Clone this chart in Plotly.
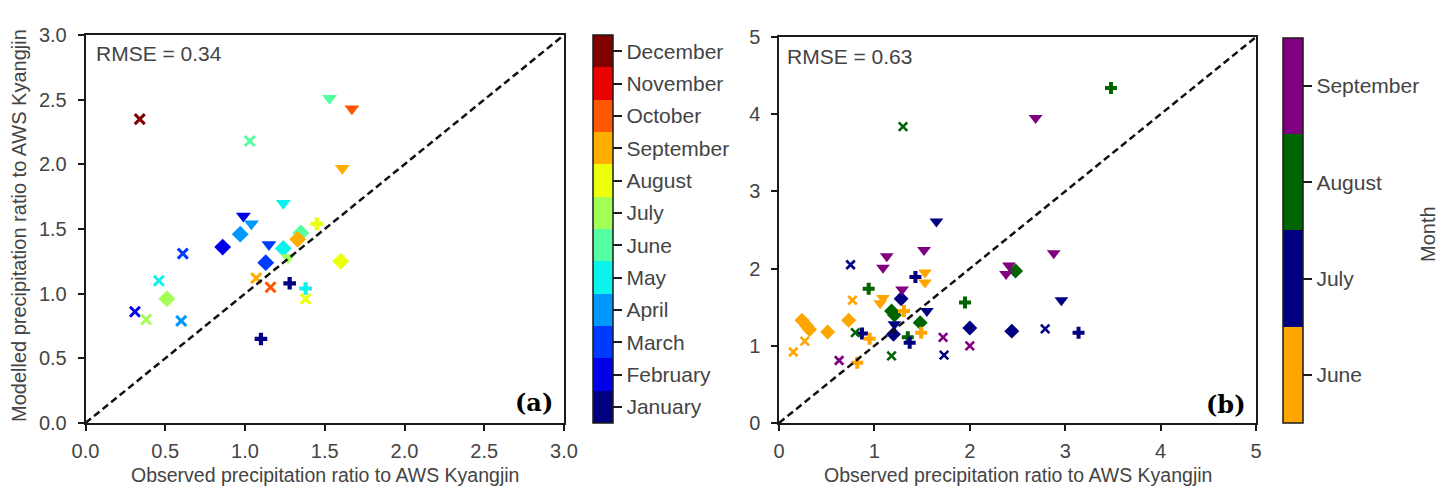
import plotly.graph_objects as go

W, H = 1451, 488

# ---------------- data: panel (a) ----------------
months_a = ["January", "February", "March", "April", "May", "June", "July",
            "August", "September", "October", "November", "December"]
obs_a = [0.34, 1.03, 1.53, 1.67, 1.61, 1.24, 1.45, 0.99, 1.04, 1.15,
         0.97, 0.86, 1.13, 1.24, 1.35, 1.33, 1.27, 1.60, 0.61, 0.46,
         0.51, 0.31, 0.38, 0.60, 1.07, 1.16, 1.28, 1.38, 1.38, 1.10]
mod_a = [2.35, 2.18, 2.51, 2.43, 1.97, 1.70, 1.54, 1.60, 1.54, 1.38,
         1.46, 1.36, 1.24, 1.35, 1.47, 1.42, 1.28, 1.25, 1.31, 1.10,
         0.96, 0.86, 0.80, 0.79, 1.12, 1.05, 1.08, 1.04, 0.96, 0.65]
month_a = [12, 6, 6, 10, 9, 5, 8, 2, 4, 3,
           4, 2, 3, 5, 6, 9, 7, 8, 3, 5,
           7, 2, 7, 4, 9, 10, 1, 5, 8, 1]
kind_a = ["x", "x", "v", "v", "v", "v", "P", "v", "v", "v",
          "D", "D", "D", "D", "D", "D", "v", "D", "x", "x",
          "D", "x", "x", "x", "x", "x", "P", "P", "x", "P"]
jet12 = ["#000080", "#0000e9", "#003aff", "#0097ff", "#0bf3ec", "#56ffa1",
         "#a1ff56", "#ecff0b", "#ffad00", "#ff5700", "#e90200", "#800000"]
ticks_a = [0.0, 0.5, 1.0, 1.5, 2.0, 2.5, 3.0]
lim_a = [0.0, 3.0]

# ---------------- data: panel (b) ----------------
months_b = ["June", "July", "August", "September"]
obs_b = [1.30, 1.65, 3.48, 2.69, 0.75, 1.13, 1.09, 1.52, 1.53, 1.53,
         1.43, 0.94, 0.77, 1.09, 1.06, 1.29, 1.28, 1.18, 1.21, 1.31,
         1.55, 1.20, 1.21, 1.48, 1.49, 1.35, 1.37, 0.87, 0.95, 0.80,
         0.24, 0.29, 0.32, 0.51, 0.73, 0.27, 0.15, 0.63, 0.82, 1.18,
         1.72, 1.73, 2.00, 2.00, 2.44, 1.95, 2.41, 2.38, 2.48, 2.88,
         2.96, 2.79, 3.14]
mod_b = [3.84, 2.61, 4.34, 3.95, 2.05, 2.16, 2.01, 2.24, 1.95, 1.82,
         1.89, 1.74, 1.59, 1.62, 1.55, 1.73, 1.61, 1.45, 1.40, 1.45,
         1.45, 1.15, 1.28, 1.30, 1.17, 1.11, 1.04, 1.16, 1.09, 1.17,
         1.33, 1.26, 1.21, 1.18, 1.33, 1.06, 0.92, 0.81, 0.78, 0.87,
         1.11, 0.88, 1.00, 1.23, 1.19, 1.56, 2.04, 1.93, 1.97, 2.20,
         1.59, 1.22, 1.17]
month_b = [8, 7, 8, 9, 7, 9, 9, 9, 6, 6,
           7, 8, 6, 6, 6, 9, 7, 8, 8, 6,
           7, 7, 7, 8, 6, 8, 7, 7, 6, 8,
           6, 6, 6, 6, 6, 6, 6, 9, 6, 8,
           9, 7, 9, 7, 7, 8, 9, 9, 8, 9,
           7, 7, 7]
kind_b = ["x", "v", "P", "v", "x", "v", "v", "v", "v", "v",
          "P", "P", "x", "v", "v", "v", "D", "D", "D", "P",
          "v", "D", "v", "D", "P", "P", "P", "P", "P", "x",
          "D", "D", "D", "D", "D", "x", "x", "x", "P", "x",
          "x", "x", "x", "D", "D", "P", "v", "v", "D", "v",
          "v", "x", "P"]
cols_b = ["#ffa500", "#000080", "#006400", "#800080"]
ticks_b = [0, 1, 2, 3, 4, 5]
lim_b = [0, 5]

# ---------------- styling ----------------
FONT = "Liberation Sans, Arial, sans-serif"
TXT = "#444444"
AX = "#1a1a1a"
SYM = {"x": "x-thin-open", "v": "triangle-down", "D": "diamond", "P": "cross"}
SIZE_A = {"x": 10, "v": 13, "D": 13, "P": 10.5}
SIZE_B = {"x": 8.5, "v": 12, "D": 11.5, "P": 10}


def discrete_scale(colors):
    n = len(colors)
    sc = []
    for i, c in enumerate(colors):
        sc.append([i / n, c])
        sc.append([(i + 1) / n, c])
    return sc


def px_x(p):
    return p / W


def px_y(p):
    return 1 - p / H


fig = go.Figure()


def add_panel(obs, mod, month, kind, colors, cmin, cmax, sizes, xa, ya, cbar, xw):
    first = True
    for k in ["D", "v", "P", "x"]:
        idx = [i for i, kk in enumerate(kind) if kk == k]
        if not idx:
            continue
        mk = dict(
            symbol=SYM[k], size=sizes[k],
            color=[month[i] for i in idx],
            colorscale=discrete_scale(colors), cmin=cmin, cmax=cmax,
            line=dict(width=xw if k == "x" else 0),
            showscale=first,
        )
        if first:
            mk["colorbar"] = cbar
        fig.add_trace(go.Scatter(
            x=[obs[i] for i in idx], y=[mod[i] for i in idx],
            mode="markers", marker=mk, xaxis=xa, yaxis=ya,
            showlegend=False, hoverinfo="x+y"))
        first = False


cb_common = dict(
    thickness=20, thicknessmode="pixels", lenmode="fraction",
    xanchor="left", yanchor="top", xpad=0, ypad=0,
    outlinewidth=1.5, outlinecolor=AX,
    ticks="outside", ticklen=9, tickwidth=1.5, tickcolor=AX,
    tickfont=dict(family=FONT, size=21, color=TXT),
)

cbar_a = dict(cb_common, x=px_x(593), y=px_y(35), len=(423 - 35) / H,
              tickvals=list(range(1, 13)), ticktext=months_a)
cbar_b = dict(cb_common, x=px_x(1283), y=px_y(38), len=(423 - 38) / H,
              tickvals=[6, 7, 8, 9], ticktext=months_b)

add_panel(obs_a, mod_a, month_a, kind_a, jet12, 0.5, 12.5, SIZE_A, "x", "y", cbar_a, 3)
add_panel(obs_b, mod_b, month_b, kind_b, cols_b, 5.5, 9.5, SIZE_B, "x2", "y2", cbar_b, 2.6)

# 1:1 lines
for lim, xa, ya in [(lim_a, "x", "y"), (lim_b, "x2", "y2")]:
    fig.add_trace(go.Scatter(
        x=lim, y=lim, mode="lines", xaxis=xa, yaxis=ya, showlegend=False,
        line=dict(color="#111111", width=2.5, dash="7px,4px"), hoverinfo="skip"))

axis_common = dict(
    showgrid=False, zeroline=False, showline=True, linewidth=1.5, linecolor=AX,
    mirror=True, ticks="outside", ticklen=6, tickwidth=1.5, tickcolor=AX,
    tickfont=dict(family=FONT, size=20, color=TXT), automargin=False,
)

fig.update_layout(
    width=W, height=H, margin=dict(l=0, r=0, t=0, b=0, autoexpand=False),
    paper_bgcolor="white", plot_bgcolor="white",
    font=dict(family=FONT, size=19, color=TXT),
    xaxis=dict(axis_common, domain=[px_x(85.5), px_x(564)], range=lim_a,
               tickvals=ticks_a, tickformat=".1f", anchor="y", ticklabelstandoff=3),
    yaxis=dict(axis_common, domain=[px_y(423), px_y(35)], range=lim_a,
               tickvals=ticks_a, tickformat=".1f", anchor="x", ticklabelstandoff=7),
    xaxis2=dict(axis_common, domain=[px_x(779), px_x(1256)], range=lim_b,
                tickvals=ticks_b, anchor="y2", ticklabelstandoff=3),
    yaxis2=dict(axis_common, domain=[px_y(423), px_y(37)], range=lim_b,
                tickvals=ticks_b, anchor="x2", ticklabelstandoff=7),
)

ann = [
    dict(text="RMSE = 0.34", x=px_x(94), y=px_y(54), xanchor="left", yanchor="middle",
         font=dict(family=FONT, size=21, color=TXT)),
    dict(text="RMSE = 0.63", x=px_x(785), y=px_y(56), xanchor="left", yanchor="middle",
         font=dict(family=FONT, size=21, color=TXT)),
    dict(text="<b>(a)</b>", x=px_x(555), y=px_y(402), xanchor="right", yanchor="middle",
         font=dict(family="DejaVu Serif, serif", size=24, color="black")),
    dict(text="<b>(b)</b>", x=px_x(1248), y=px_y(404), xanchor="right", yanchor="middle",
         font=dict(family="DejaVu Serif, serif", size=24, color="black")),
    dict(text="Observed precipitation ratio to AWS Kyangjin", x=px_x(324.7), y=px_y(475),
         xanchor="center", yanchor="middle", font=dict(family=FONT, size=19.5, color=TXT)),
    dict(text="Observed precipitation ratio to AWS Kyangjin", x=px_x(1017.5), y=px_y(475),
         xanchor="center", yanchor="middle", font=dict(family=FONT, size=19.5, color=TXT)),
    dict(text="Modelled precipitation ratio to AWS Kyangjin", x=px_x(19), y=px_y(226),
         xanchor="center", yanchor="middle", textangle=-90,
         font=dict(family=FONT, size=20, color=TXT)),
    dict(text="Month", x=px_x(1428), y=px_y(234), xanchor="center", yanchor="middle",
         textangle=-90, font=dict(family=FONT, size=20, color=TXT)),
]
for a in ann:
    a.update(xref="paper", yref="paper", showarrow=False)
fig.update_layout(annotations=ann)

fig.write_html("out.html")
